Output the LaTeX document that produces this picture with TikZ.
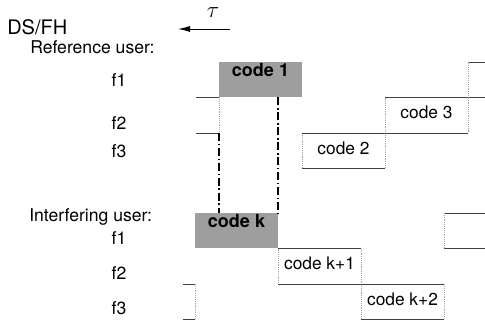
\documentclass[tikz,border=0pt]{standalone}
\usepackage{fontspec}
\setmainfont{TeX Gyre Heros}
\usetikzlibrary{arrows.meta,positioning}
\tikzset{
  chip/.style={
      rectangle,
      anchor=north west,
      inner sep=0pt,
      outer sep=0pt,
      minimum width=62.25pt,
      minimum height=26.6pt,
      draw=black!35,
      densely dotted,
      text height=9.3pt,
      text depth=4pt,
      font=\fontsize{13}{15}\selectfont
  },
  hit/.style={
      chip,
      draw=none,
      fill=black!38,
      text depth=13.5pt,
      font=\fontsize{13.5}{15}\selectfont\bfseries
  },
  edge/.style={black!75, line width=0.6pt},
  faint/.style={black!35, densely dotted, line width=0.4pt},
  overlap/.style={line width=1.3pt, dash pattern=on 6pt off 2pt on 1.2pt off 2pt},
  lab/.style={font=\fontsize{13.2}{15}\selectfont, inner sep=0pt}
}

\begin{document}
\begin{tikzpicture}[x=0.75pt,y=-0.75pt]
    \useasboundingbox (0,0) rectangle (485,323);

    % titles and labels
    \node[anchor=base west, font=\fontsize{15}{17}\selectfont, inner sep=0pt] (title) at (7,35) {DS/FH};
    \node[font=\fontsize{18}{20}\selectfont, inner sep=0pt] (tau) at (213,13) {$\tau$};
    \coordinate (taustart) at (230,29);
    \coordinate (tauend) at (178,29);
    \draw[-{Latex[length=9pt,width=4.5pt]}, line width=0.7pt] (taustart) -- (tauend);

    \node[lab, anchor=base west] (refuser) at (30,54) {Reference user:};
    \node[lab, anchor=base] (rf1) at (119,87) {f1};
    \node[lab, anchor=base] (rf2) at (119,130) {f2};
    \node[lab, anchor=base] (rf3) at (119,158) {f3};
    \node[lab, anchor=base west] (intuser) at (29,222) {Interfering user:};
    \node[lab, anchor=base] (if1) at (119,245) {f1};
    \node[lab, anchor=base] (if2) at (119,280) {f2};
    \node[lab, anchor=base] (if3) at (119,315) {f3};

    % reference user hops
    \node[hit] (code1) at (219,62) {code 1};
    \node[chip] (code2) at (302,133) {code 2};
    \node[chip] (code3) at (385,97.5) {code 3};

    % interfering user hops, shifted by tau
    \node[hit] (codek) at (195,213) {code k};
    \node[chip] (codek1) at (278,248.5) {code k+1};
    \node[chip] (codek2) at (361,284) {code k+2};

    \foreach \c in {code2,code3,codek1,codek2}
      \draw[edge] (\c.north west) -- (\c.north east) (\c.south west) -- (\c.south east);

    % hops cut by the frame
    \coordinate (rprev) at (196,97.5);
    \coordinate (rnext) at (485,62);
    \coordinate (iprev) at (183,284);
    \coordinate (inext) at (485,213);
    \draw[edge] (rprev) -- (code1.south west);
    \draw[edge] (rprev |- code2.north) -- (code1.south west |- code2.north);
    \draw[faint] (code1.south west) -- (code1.south west |- code2.north);
    \draw[edge] (code3.north east |- rnext) -- (rnext);
    \draw[edge] (code3.north east) -- (code3.north east -| rnext);
    \draw[faint] (code3.north east) -- (code3.north east |- rnext);
    \draw[edge] (iprev) -- (iprev -| codek.west);
    \draw[edge] (iprev |- codek2.south) -- (codek.west |- codek2.south);
    \draw[faint] (iprev -| codek.west) -- (codek.west |- codek2.south);
    \draw[edge] (codek2.north east |- inext) -- (inext);
    \draw[edge] (codek2.north east |- codek.south) -- (inext |- codek.south);
    \draw[faint] (codek2.north east |- inext) -- (codek2.north east |- codek.south);

    % overlap of code 1 and code k
    \draw[overlap] (code1.south west |- code2.north) -- (code1.south west |- codek.north);
    \draw[overlap] (codek.north east |- code1.south) -- (codek.north east);
\end{tikzpicture}
\end{document}
